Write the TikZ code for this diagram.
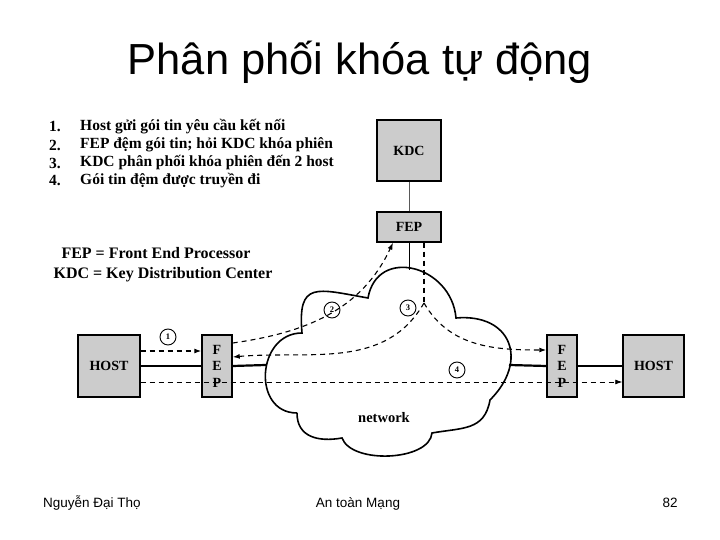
\documentclass[tikz,border=0pt]{standalone}
\usepackage{fontspec}
\setmainfont{Liberation Serif}
\newfontfamily\arialfont{Liberation Sans}
\usetikzlibrary{arrows.meta,positioning}

\begin{document}
\begin{tikzpicture}[x=1pt,y=1pt,>={Latex[length=7pt,width=5pt]},
  box/.style={draw,line width=1.4pt,fill=gray!40,inner sep=0pt,
    font=\bfseries\fontsize{14}{16.5}\selectfont,align=center},
  num/.style={draw,circle,line width=0.9pt,inner sep=0pt,minimum size=16pt,
    font=\bfseries\fontsize{8.5}{9}\selectfont},
  wire/.style={line width=2.2pt},
  msg/.style={line width=1.1pt,dash pattern=on 5pt off 4pt},
  item/.style={anchor=west,inner sep=0pt,font=\bfseries\fontsize{15.5}{18}\selectfont},
  foot/.style={anchor=base,inner sep=0pt,font=\arialfont\fontsize{13.5}{15}\selectfont}]
\useasboundingbox (0,0) rectangle (720,540);

% title
\node[font=\arialfont\fontsize{43.5}{50}\selectfont] (title) at (360,478) {Phân phối khóa tự động};

% steps
\node[item] (n1) at (49,413) {1.};
\node[item] (n2) at (49,395) {2.};
\node[item] (n3) at (49,377) {3.};
\node[item] (n4) at (49,359) {4.};
\node[item] (s1) at (80,413) {Host gửi gói tin yêu cầu kết nối};
\node[item] (s2) at (80,395) {FEP đệm gói tin; hỏi KDC khóa phiên};
\node[item] (s3) at (80,377) {KDC phân phối khóa phiên đến 2 host};
\node[item] (s4) at (80,359) {Gói tin đệm được truyền đi};

\node[font=\bfseries\fontsize{16}{18}\selectfont] (fep) at (156,287) {FEP = Front End Processor};
\node[font=\bfseries\fontsize{16}{18}\selectfont] (kdcdef) at (163,265) {KDC = Key Distribution Center};

% boxes
\node[box,minimum width=64pt,minimum height=61pt] (kdc) at (409,389.5) {KDC};
\node[box,minimum width=64pt,minimum height=30pt] (fepT) at (409,313) {FEP};
\node[box,minimum width=62pt,minimum height=62pt] (hostL) at (109,174) {HOST};
\node[box,minimum width=30pt,minimum height=62pt] (fepL) at (217,174) {F\\E\\P};
\node[box,minimum width=30pt,minimum height=62pt] (fepR) at (562,174) {F\\E\\P};
\node[box,minimum width=61pt,minimum height=62pt] (hostR) at (653.5,174) {HOST};

% network cloud
\coordinate (c1) at (302,207);
\coordinate (c2) at (368,242);
\coordinate (c3) at (456,222);
\coordinate (c4) at (490,140);
\coordinate (c5) at (432,107);
\coordinate (c6) at (342,102);
\coordinate (c7) at (297,127);
\draw[line width=1.6pt] (c7) to[out=180,in=180,looseness=1.45] (c1)
  to[out=95,in=170,looseness=1.8] (c2)
  to[out=80,in=95,looseness=1.5] (c3)
  to[out=5,in=45,looseness=1.6] (c4)
  to[out=-100,in=10,looseness=1.2] (c5)
  to[out=-95,in=-70,looseness=0.8] (c6)
  to[out=190,in=-90,looseness=1.2] (c7);
\node[font=\bfseries\fontsize{14.5}{16}\selectfont] (net) at (384,122) {network};
\coordinate (cloudW) at (266,175);
\coordinate (cloudE) at (509,175);
\coordinate (cloudN) at (409,270);
\coordinate (split) at (424,237);

% links
\draw[line width=1pt,gray!70!black] (kdc) -- (fepT);
\draw[line width=1pt] (fepT) -- (cloudN);
\draw[wire] (hostL) -- (fepL);
\draw[wire] (fepL.east) -- (cloudW);
\draw[wire] (cloudE) -- (fepR.west);
\draw[wire] (fepR) -- (hostR);

% messages
\draw[msg,->] ([yshift=15pt]hostL.east) -- ([yshift=15pt]fepL.west);
\draw[msg,->] ([yshift=23pt]fepL.east) to[out=8,in=-115] ([xshift=-16pt]fepT.south);
\draw[msg] ([xshift=15pt]fepT.south) -- (split);
\draw[msg,->] (split) to[out=-120,in=5] ([yshift=9pt]fepL.east);
\draw[msg,->] (split) to[out=-60,in=180] ([yshift=16pt]fepR.west);
\draw[line width=0.8pt,dash pattern=on 5pt off 4pt,->] ([yshift=-16pt]hostL.east) -- ([yshift=-16pt]hostR.west);

\node[num] (m1) at (168,203) {1};
\node[num] (m2) at (332,230) {2};
\node[num] (m3) at (408,232) {3};
\node[num] (m4) at (457,170) {4};

% footer
\node[foot,anchor=base west] (author) at (43,32) {Nguyễn Đại Thọ};
\node[foot] (course) at (358,32) {An toàn Mạng};
\node[foot] (page) at (670,32) {82};
\end{tikzpicture}
\end{document}
